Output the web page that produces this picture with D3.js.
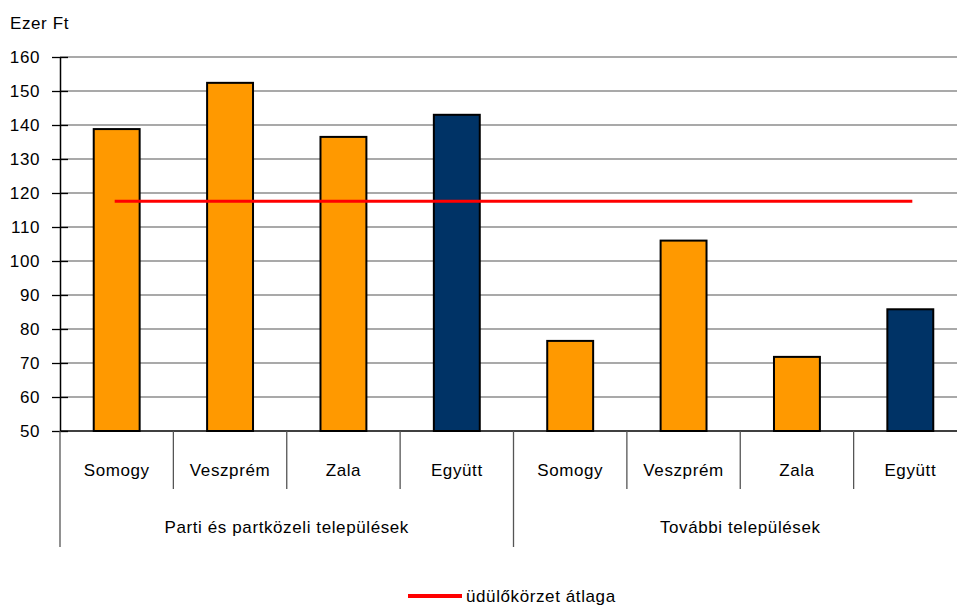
<!DOCTYPE html>
<html>
<head>
<meta charset="utf-8">
<script src="https://cdn.jsdelivr.net/npm/d3@7"></script>
<style>
  body { margin: 0; background: #fff; }
  text { font-family: "Liberation Sans", Arial, sans-serif; fill: #000; letter-spacing: 0.6px; }
</style>
</head>
<body>
<div id="chart"></div>
<script>
// data
var categories = ["Somogy", "Veszprém", "Zala", "Együtt", "Somogy", "Veszprém", "Zala", "Együtt"];
var groups = ["Parti és partközeli települések", "További települések"];
var groupOf = [0, 0, 0, 0, 1, 1, 1, 1];
var values = [138.8, 152.4, 136.5, 143.0, 76.5, 106.0, 71.8, 85.8];
var isTotal = [false, false, false, true, false, false, false, true];
var average = 117.6;
var yTicks = [50, 60, 70, 80, 90, 100, 110, 120, 130, 140, 150, 160];

var margin = {top: 57, right: -10, bottom: 174, left: 60},
    width = 957 - margin.left - margin.right,
    height = 605 - margin.top - margin.bottom;

var svg = d3.select("#chart")
  .append("svg")
    .attr("width", 957)
    .attr("height", 605)
  .append("g")
    .attr("transform", "translate(" + margin.left + "," + margin.top + ")");

var idx = d3.range(categories.length);

var x = d3.scaleBand()
  .domain(idx)
  .range([0, width])
  .padding(0);

var y = d3.scaleLinear()
  .domain([50, 160])
  .range([height, 0]);

// gridlines
svg.append("g")
  .selectAll("line")
  .data(yTicks.slice(1))
  .enter()
  .append("line")
    .attr("x1", 0)
    .attr("x2", width)
    .attr("y1", function(d) { return y(d); })
    .attr("y2", function(d) { return y(d); })
    .attr("stroke", "#8c8c8c")
    .attr("stroke-width", 1.3);

// bars
var barW = x.bandwidth() * 0.405;
svg.append("g")
  .selectAll("rect")
  .data(idx)
  .enter()
  .append("rect")
    .attr("x", function(d) { return x(d) + (x.bandwidth() - barW) / 2; })
    .attr("y", function(d) { return y(values[d]); })
    .attr("width", barW)
    .attr("height", function(d) { return y(50) - y(values[d]); })
    .attr("fill", function(d) { return isTotal[d] ? "#003366" : "#ff9900"; })
    .attr("stroke", "#000")
    .attr("stroke-width", 2);

// average line
svg.append("line")
  .attr("x1", x(0) + x.bandwidth() / 2 - 2)
  .attr("x2", x(7) + x.bandwidth() / 2 + 2)
  .attr("y1", y(average))
  .attr("y2", y(average))
  .attr("stroke", "#ff0000")
  .attr("stroke-width", 3);

// y axis
var yAxis = svg.append("g")
  .call(d3.axisLeft(y).tickValues(yTicks).tickSize(8).tickPadding(12).tickSizeOuter(0));
yAxis.select(".domain").attr("stroke", "#000").attr("stroke-width", 1.5);
yAxis.selectAll(".tick line").attr("x2", 8).attr("x1", -8).attr("stroke", "#000").attr("stroke-width", 1.3);
yAxis.selectAll(".tick text")
  .attr("x", -20)
  .style("font-size", "17px")
  .style("font-family", "'Liberation Sans', Arial, sans-serif");

// x axis line
svg.append("line")
  .attr("x1", 0).attr("x2", width)
  .attr("y1", height).attr("y2", height)
  .attr("stroke", "#000").attr("stroke-width", 1.5);

// category dividers
svg.append("g")
  .selectAll("line")
  .data(d3.range(categories.length + 1))
  .enter()
  .append("line")
    .attr("x1", function(d) { return d === 0 ? 0 : (d < categories.length ? x(d) : width); })
    .attr("x2", function(d) { return d === 0 ? 0 : (d < categories.length ? x(d) : width); })
    .attr("y1", height)
    .attr("y2", function(d) { return d % 4 === 0 ? height + 116 : height + 58; })
    .attr("stroke", "#555")
    .attr("stroke-width", 1.3);

// category labels
svg.append("g")
  .selectAll("text")
  .data(idx)
  .enter()
  .append("text")
    .attr("x", function(d) { return x(d) + x.bandwidth() / 2; })
    .attr("y", height + 45)
    .attr("text-anchor", "middle")
    .style("font-size", "17px")
    .text(function(d) { return categories[d]; });

// group labels
svg.append("g")
  .selectAll("text")
  .data(groups)
  .enter()
  .append("text")
    .attr("x", function(d, i) {
      var first = groupOf.indexOf(i), last = groupOf.lastIndexOf(i);
      return (x(first) + x(last) + x.bandwidth()) / 2;
    })
    .attr("y", height + 102)
    .attr("text-anchor", "middle")
    .style("font-size", "17px")
    .text(function(d) { return d; });

// unit label
svg.append("text")
  .attr("x", -50)
  .attr("y", -28)
  .style("font-size", "17px")
  .text("Ezer Ft");

// legend
var legend = svg.append("g")
  .attr("transform", "translate(" + (408 - margin.left) + "," + (596 - margin.top) + ")");
legend.append("line")
  .attr("x1", 0).attr("x2", 54)
  .attr("y1", 0).attr("y2", 0)
  .attr("stroke", "#ff0000")
  .attr("stroke-width", 4);
legend.append("text")
  .attr("x", 58)
  .attr("y", 6)
  .style("font-size", "17px")
  .text("üdülőkörzet átlaga");
</script>
</body>
</html>
